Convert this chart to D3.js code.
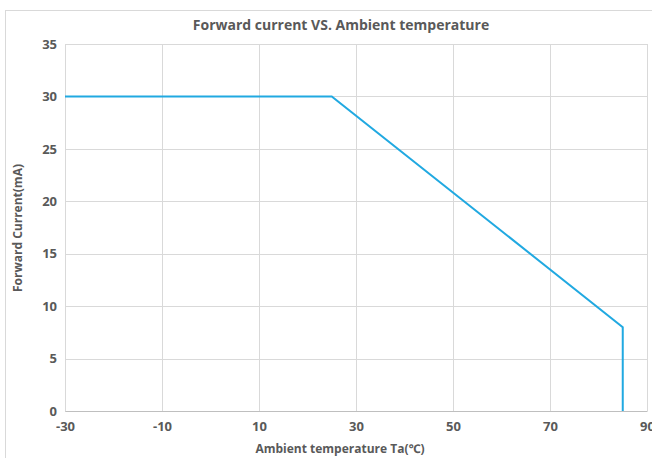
<!DOCTYPE html>
<html>
<head>
<meta charset="utf-8">
<script src="https://cdn.jsdelivr.net/npm/d3@7"></script>
<style>
  body { margin: 0; background: #fff; }
  text { font-family: "Open Sans", "Noto Sans", sans-serif; fill: #595959; }
</style>
</head>
<body>
<svg id="chart" width="652" height="458"></svg>
<script>
// data
var temps = [-30, 25, 85, 85];
var currents = [30, 30, 8, 0];
var xTicks = [-30, -10, 10, 30, 50, 70, 90];
var yTicks = [0, 5, 10, 15, 20, 25, 30, 35];

var svg = d3.select("#chart"),
    margin = {top: 44, right: 5, bottom: 47, left: 65},
    width = 647 - margin.left,
    height = 411 - margin.top;

// outer chart frame
svg.append("rect")
    .attr("x", 5.5).attr("y", 10.5)
    .attr("width", 660).attr("height", 460)
    .attr("fill", "none")
    .attr("stroke", "#d9d9d9");

var g = svg.append("g")
    .attr("transform", "translate(" + margin.left + "," + margin.top + ")");

var x = d3.scaleLinear().domain([-30, 90]).range([0, width]);
var y = d3.scaleLinear().domain([0, 35]).range([height, 0]);

// grid
g.selectAll(".vgrid").data(xTicks).enter().append("line")
    .attr("x1", d => Math.round(x(d)) + 0.5).attr("x2", d => Math.round(x(d)) + 0.5)
    .attr("y1", 0).attr("y2", height)
    .attr("stroke", "#d9d9d9");

g.selectAll(".hgrid").data(yTicks).enter().append("line")
    .attr("x1", 0).attr("x2", width)
    .attr("y1", d => Math.round(y(d)) + 0.5).attr("y2", d => Math.round(y(d)) + 0.5)
    .attr("stroke", "#d9d9d9");

// axes (plain hyphen minus like the original)
var xAxis = g.append("g")
    .attr("transform", "translate(0," + height + ")")
    .call(d3.axisBottom(x).tickValues(xTicks).tickFormat(d => String(d)).tickSize(0).tickPadding(11));
xAxis.select(".domain").attr("stroke", "#bfbfbf");

var yAxis = g.append("g")
    .call(d3.axisLeft(y).tickValues(yTicks).tickFormat(d => String(d)).tickSize(0).tickPadding(8));
yAxis.select(".domain").remove();

g.selectAll(".tick text")
    .style("font-size", "13px")
    .style("font-weight", "bold")
    .attr("fill", "#595959");

// line
var line = d3.line()
    .x((d, i) => x(temps[i]))
    .y((d, i) => y(currents[i]));

g.append("path")
    .datum(currents)
    .attr("d", line)
    .attr("fill", "none")
    .attr("stroke", "#21a9e1")
    .attr("stroke-width", 2);

// Title
svg.append("text")
    .attr("x", 341).attr("y", 30)
    .style("text-anchor", "middle")
    .style("font-size", "14px")
    .style("font-weight", "bold")
    .text("Forward current VS. Ambient temperature");

svg.append("text")
    .attr("x", 340).attr("y", 453)
    .style("text-anchor", "middle")
    .style("font-size", "12px")
    .style("font-weight", "bold")
    .text("Ambient temperature Ta(℃)");

svg.append("text")
    .attr("transform", "rotate(-90)")
    .attr("x", -228).attr("y", 22)
    .style("text-anchor", "middle")
    .style("font-size", "12px")
    .style("font-weight", "bold")
    .text("Forward Current(mA)");
</script>
</body>
</html>
